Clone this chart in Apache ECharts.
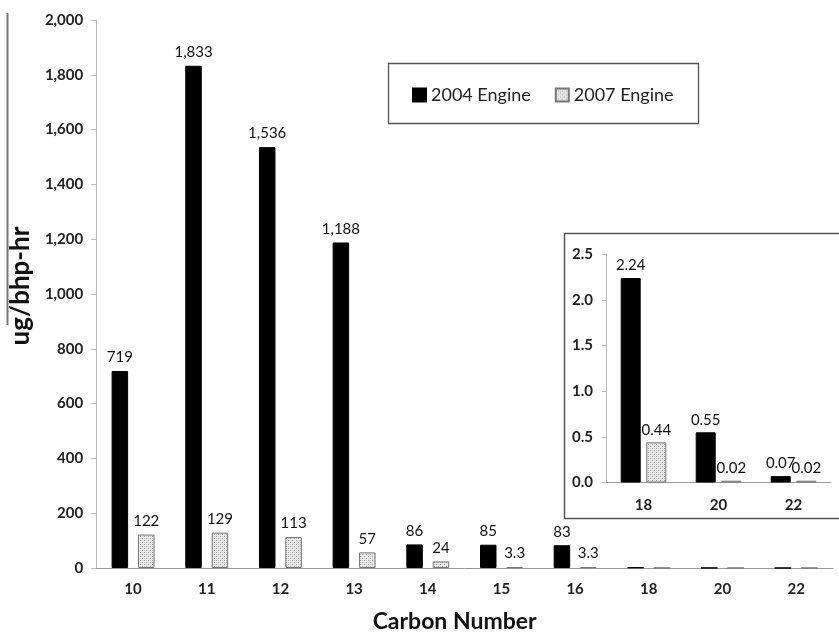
<!DOCTYPE html>
<html>
<head>
<meta charset="utf-8">
<script src="https://cdn.jsdelivr.net/npm/echarts@6/dist/echarts.min.js"></script>
<style>
  html, body { margin: 0; padding: 0; background: #fff; }
  #chart { width: 839px; height: 638px; }
</style>
</head>
<body>
<div id="chart"></div>
<script>
// Carbon number categories and emission rates (ug/bhp-hr)
const categories = ['10', '11', '12', '13', '14', '15', '16', '18', '20', '22'];
const engine2004 = [719, 1833, 1536, 1188, 86, 85, 83, 2.24, 0.55, 0.07];
const engine2007 = [122, 129, 113, 57, 24, 3.3, 3.3, 0.44, 0.02, 0.02];
const seriesNames = ['2004 Engine', '2007 Engine'];

// The inset zooms in on the heaviest carbon numbers
const insetStart = 7;
const insetCategories = categories.slice(insetStart);
const inset2004 = engine2004.slice(insetStart);
const inset2007 = engine2007.slice(insetStart);

// Stippled fill used for the 2007 engine bars
function stipple() {
  const c = document.createElement('canvas');
  c.width = 4; c.height = 4;
  const g = c.getContext('2d');
  g.fillStyle = '#ececec';
  g.fillRect(0, 0, 4, 4);
  g.fillStyle = '#9a9a9a';
  g.fillRect(0, 0, 1, 1);
  g.fillRect(2, 2, 1, 1);
  g.fillStyle = '#c4c4c4';
  g.fillRect(2, 0, 1, 1);
  g.fillRect(0, 2, 1, 1);
  return { image: c, repeat: 'repeat' };
}
const dotted = stipple();

const font = 'Lato, "Open Sans", "Liberation Sans", sans-serif';
const fmtMain = v => (v >= 1000 ? v.toLocaleString('en-US') : String(v));

const chart = echarts.init(document.getElementById('chart'), null, { renderer: 'canvas' });

const blackStyle = { color: '#000', borderColor: '#000', borderWidth: 1 };
const dotStyle = { color: dotted, borderColor: '#777', borderWidth: 1 };

chart.setOption({
  backgroundColor: '#fff',
  animation: false,
  textStyle: { fontFamily: font },
  graphic: [
    { type: 'line', z: 0, shape: { x1: 7.5, y1: 13, x2: 7.5, y2: 325 }, style: { stroke: '#777', lineWidth: 2 } },
    { type: 'rect', z: 0, shape: { x: 388.5, y: 63.5, width: 310, height: 60 }, style: { fill: '#fff', stroke: '#555', lineWidth: 1.3 } },
    { type: 'rect', z: 0, shape: { x: 564.5, y: 233.5, width: 330, height: 285 }, style: { fill: '#fff', stroke: '#555', lineWidth: 1.5 } }
  ],
  legend: {
    data: seriesNames,
    left: 412,
    top: 86,
    padding: 0,
    itemGap: 24,
    itemWidth: 13,
    itemHeight: 13,
    icon: 'rect',
    textStyle: { fontFamily: font, fontSize: 18, color: '#222' }
  },
  grid: [
    { left: 96, right: 6, top: 20, bottom: 66 },
    { left: 606, right: 8, top: 254.3, bottom: 155.5 }
  ],
  xAxis: [
    {
      type: 'category', gridIndex: 0, data: categories,
      name: 'Carbon Number', nameLocation: 'middle', nameGap: 42,
      nameTextStyle: { fontFamily: font, fontSize: 23, fontWeight: 'bold', color: '#111', padding: [0, 20, 0, 0] },
      axisLine: { lineStyle: { color: '#999', width: 1 } },
      axisTick: { length: 4, lineStyle: { color: '#999' } },
      axisLabel: { margin: 14, fontFamily: font, fontSize: 15, fontWeight: 'bold', color: '#222' }
    },
    {
      type: 'category', gridIndex: 1, data: insetCategories,
      axisLine: { lineStyle: { color: '#999', width: 1 } },
      axisTick: { length: 4, lineStyle: { color: '#999' } },
      axisLabel: { margin: 15, fontFamily: font, fontSize: 15, fontWeight: 'bold', color: '#222' }
    }
  ],
  yAxis: [
    {
      type: 'value', gridIndex: 0, min: 0, max: 2000, interval: 200,
      name: 'ug/bhp-hr', nameLocation: 'middle', nameGap: 56, nameRotate: 90,
      nameTextStyle: { fontFamily: font, fontSize: 26, fontWeight: 'bold', color: '#111', padding: [0, 0, 0, 16] },
      splitLine: { show: false },
      axisLine: { show: true, lineStyle: { color: '#bbb', width: 1 } },
      axisTick: { show: true, length: 5, lineStyle: { color: '#bbb' } },
      axisLabel: { margin: 13, fontFamily: font, fontSize: 15, fontWeight: 'bold', color: '#222', formatter: v => v.toLocaleString('en-US') }
    },
    {
      type: 'value', gridIndex: 1, min: 0, max: 2.5, interval: 0.5,
      splitLine: { show: false },
      axisLine: { show: true, lineStyle: { color: '#bbb', width: 1 } },
      axisTick: { show: true, length: 4, lineStyle: { color: '#bbb' } },
      axisLabel: { margin: 13, fontFamily: font, fontSize: 15, fontWeight: 'bold', color: '#222', formatter: v => v.toFixed(1) }
    }
  ],
  series: [
    {
      name: seriesNames[0], type: 'bar', xAxisIndex: 0, yAxisIndex: 0,
      data: engine2004, barWidth: 16.5, barGap: '60%',
      itemStyle: blackStyle,
      label: {
        show: true, position: 'top', distance: 6, fontFamily: font, fontSize: 15, color: '#111',
        formatter: p => (p.dataIndex < insetStart ? fmtMain(p.value) : '')
      }
    },
    {
      name: seriesNames[1], type: 'bar', xAxisIndex: 0, yAxisIndex: 0,
      data: engine2007, barWidth: 16.5, barGap: '60%',
      itemStyle: dotStyle,
      label: {
        show: true, position: 'top', distance: 6, fontFamily: font, fontSize: 15, color: '#111',
        formatter: p => (p.dataIndex < insetStart ? fmtMain(p.value) : '')
      }
    },
    {
      name: seriesNames[0], type: 'bar', xAxisIndex: 1, yAxisIndex: 1,
      data: inset2004, barWidth: 20, barGap: '28%',
      itemStyle: blackStyle,
      label: { show: true, position: 'top', distance: 5, fontFamily: font, fontSize: 15, color: '#111', formatter: p => p.value.toFixed(2) }
    },
    {
      name: seriesNames[1], type: 'bar', xAxisIndex: 1, yAxisIndex: 1,
      data: inset2007, barWidth: 20, barGap: '28%',
      itemStyle: dotStyle,
      label: { show: true, position: 'top', distance: 5, fontFamily: font, fontSize: 15, color: '#111', formatter: p => p.value.toFixed(2) }
    }
  ]
});
</script>
</body>
</html>
